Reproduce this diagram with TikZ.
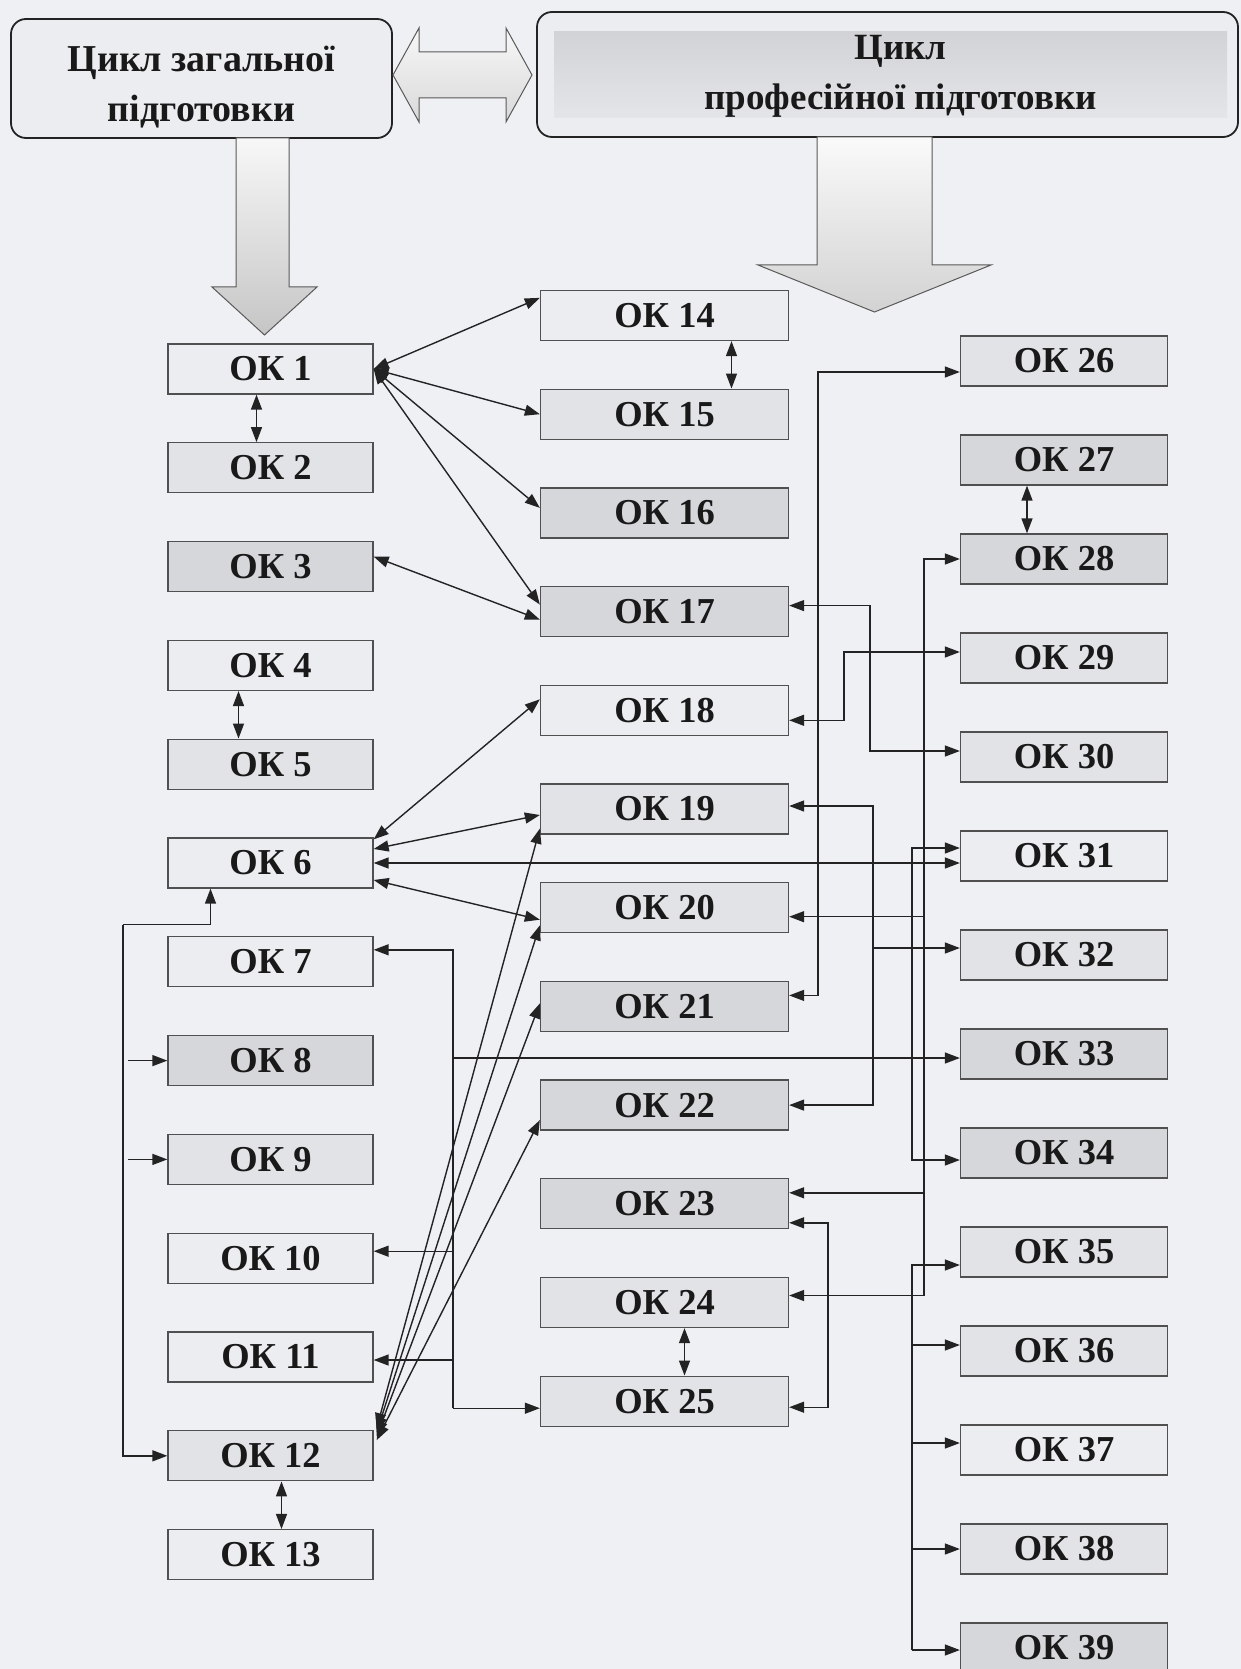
\documentclass[tikz,border=0pt]{standalone}
\usepackage{fontspec}
\setmainfont{Liberation Serif}
\usetikzlibrary{arrows.meta,calc}
\definecolor{bg}{RGB}{238,240,244}
\definecolor{boxA}{RGB}{236,237,240}
\definecolor{boxB}{RGB}{226,227,230}
\definecolor{boxC}{RGB}{214,215,218}
\definecolor{ln}{RGB}{35,35,35}
\definecolor{bd}{RGB}{80,80,80}
\begin{document}
\begin{tikzpicture}[x=1pt,y=-1pt,
  okbox/.style={draw=bd, line width=1.3pt, inner sep=0pt, font=\fontsize{36.5}{40}\selectfont\bfseries, text=black!90},
  c1/.style={okbox, minimum width=205pt, minimum height=50pt},
  c2/.style={okbox, minimum width=248pt, minimum height=50pt},
  c3/.style={okbox, minimum width=207pt, minimum height=50pt},
  topbox/.style={draw=ln, line width=1.8pt, rounded corners=15pt, fill=boxA, inner sep=0pt},
  toptext/.style={font=\fontsize{38}{50}\selectfont\bfseries, align=center, text=black!90, inner sep=0pt},
  con/.style={draw=ln, line width=1.4pt},
  one/.style={con, -{Triangle[length=15pt,width=11pt]}},
  two/.style={con, {Triangle[length=15pt,width=11pt]}-{Triangle[length=15pt,width=11pt]}},
  bigarrow/.style={draw=gray!70!black, line width=1pt},
]
\fill[bg] (0,0) rectangle (1241,1669);
\useasboundingbox (0,0) rectangle (1241,1669);

% ---------- top blocks ----------
\node[topbox, minimum width=381pt, minimum height=119pt] (gen) at (201.5,78.5) {};
\node[toptext] (gentxt) at ($(gen.center)+(0,9)$) {Цикл загальної\\підготовки};
\node[topbox, minimum width=701pt, minimum height=125pt] (prof) at (887.5,74.5) {};
\shade[top color={rgb,255:red,210;green,211;blue,214}, bottom color={rgb,255:red,228;green,229;blue,232}] (554,32) rectangle (1227,118);
\node[toptext, font=\fontsize{37}{50}\selectfont\bfseries] (proftxt) at ($(prof.center)+(13,2)$) {Цикл\\професійної підготовки};

% hollow double arrow between blocks
\shade[top color=gray!6, bottom color=gray!30, bigarrow]
  (393,75) -- (419,28) -- (419,52) -- (506,52) -- (506,28) -- (532,75)
  -- (506,122) -- (506,98) -- (419,98) -- (419,122) -- cycle;
% down arrows
\shade[top color=gray!6, bottom color=gray!45, bigarrow]
  (236,138) -- (289,138) -- (289,287) -- (317,287) -- (264.5,335)
  -- (212,287) -- (236,287) -- cycle;
\shade[top color=gray!4, bottom color=gray!35, bigarrow]
  (817,137) -- (932,137) -- (932,265) -- (991,265) -- (874.5,312)
  -- (758,265) -- (817,265) -- cycle;

% ---------- boxes ----------
\foreach \i/\f in {1/boxA,2/boxB,3/boxC,4/boxA,5/boxB,6/boxA,7/boxA,8/boxC,9/boxB,10/boxA,11/boxA,12/boxB,13/boxA}
  \node[c1, fill=\f] (ok\i) at (270.5,{369+(\i-1)*98.8}) {ОК \i};
\foreach \i/\f in {14/boxA,15/boxB,16/boxC,17/boxC,18/boxA,19/boxB,20/boxB,21/boxC,22/boxC,23/boxC,24/boxB,25/boxB}
  \node[c2, fill=\f] (ok\i) at (664.5,{315.5+(\i-14)*98.7}) {ОК \i};
\foreach \i/\f in {26/boxB,27/boxC,28/boxC,29/boxB,30/boxB,31/boxA,32/boxB,33/boxC,34/boxC,35/boxB,36/boxB,37/boxA,38/boxB,39/boxC}
  \node[c3, fill=\f] (ok\i) at (1064,{361+(\i-26)*99}) {ОК \i};

% ---------- short vertical double arrows ----------
\draw[two] ($(ok1.south)+(-14,0)$) -- ($(ok2.north)+(-14,0)$);
\draw[two] ($(ok4.south)+(-32,0)$) -- ($(ok5.north)+(-32,0)$);
\draw[two] ($(ok12.south)+(11,0)$) -- ($(ok13.north)+(11,0)$);
\draw[two] ($(ok14.south)+(67,0)$) -- ($(ok15.north)+(67,0)$);
\draw[two] ($(ok24.south)+(20,0)$) -- ($(ok25.north)+(20,0)$);
\draw[two] ($(ok27.south)+(-37,0)$) -- ($(ok28.north)+(-37,0)$);

% ---------- fan from OK1 and OK3 ----------
\draw[two] (ok1.east) -- ($(ok14.north west)+(0,8)$);
\draw[two] (ok1.east) -- (ok15.west);
\draw[two] (ok1.east) -- ($(ok16.west)+(0,-5)$);
\draw[two] (ok1.east) -- ($(ok17.west)+(0,-7)$);
\draw[two] ($(ok3.east)+(0,-10)$) -- ($(ok17.west)+(0,8)$);

% ---------- fan at OK6 ----------
\draw[two] ($(ok6.north east)+(0,2)$) -- ($(ok18.west)+(0,-11)$);
\draw[two] ($(ok6.east)+(0,-14)$) -- ($(ok19.west)+(0,6)$);
\draw[two] (ok6.east) -- (ok6.east -| ok31.west);
\draw[two] ($(ok6.east)+(0,17)$) -- ($(ok20.west)+(0,12)$);

% ---------- fan at OK12 ----------
\draw[two] ($(ok12.north east)+(3,-2)$) -- ($(ok19.south west)+(0,-6)$);
\draw[two] ($(ok12.north east)+(3,2)$) -- ($(ok20.south west)+(0,-8)$);
\draw[two] ($(ok12.north east)+(3,6)$) -- ($(ok21.west)+(0,-3)$);
\draw[two] ($(ok12.north east)+(3,10)$) -- ($(ok22.west)+(0,15)$);

% ---------- trunk between columns 1 and 2 ----------
\coordinate (tA) at (453,0);
\coordinate (p7) at ($(ok7.east)+(0,-12)$);
\coordinate (p10) at ($(ok10.east)+(0,-7)$);
\coordinate (p11) at ($(ok11.east)+(0,3)$);
\coordinate (p25) at ($(ok25.west)+(0,7)$);
\coordinate (p33) at ($(ok33.west)+(0,4)$);
\draw[one] (p25 -| tA) -- (p7 -| tA) -- (p7);
\draw[one] (p25 -| tA) -- (p25);
\draw[one] (p10 -| tA) -- (p10);
\draw[one] (p11 -| tA) -- (p11);
\draw[one] (p33 -| tA) -- (p33);

% ---------- left trunk ----------
\coordinate (tL) at (123,0);
\coordinate (k6) at ($(ok6.south)+(-60,36)$);
\coordinate (s6) at ($(ok6.south)+(-60,0)$);
\draw[one] (k6 -| tL) -- (k6) -- (s6);
\draw[one] (k6 -| tL) -- (ok12.west -| tL) -- (ok12.west);
\draw[one] ($(ok8.west -| tL)+(5,0)$) -- (ok8.west);
\draw[one] ($(ok9.west -| tL)+(5,0)$) -- (ok9.west);

% ---------- elbows between columns 2 and 3 ----------
\coordinate (v1) at (818,0);
\coordinate (v2) at (844,0);
\coordinate (v3) at (870,0);
\coordinate (v4) at (873,0);
\coordinate (v5) at (924,0);
\coordinate (v6) at (912,0);
\coordinate (v7) at (828,0);

\coordinate (q21) at ($(ok21.east)+(0,-11)$);
\coordinate (q26) at ($(ok26.west)+(0,11)$);
\draw[two] (q21) -- (q21 -| v1) -- (q26 -| v1) -- (q26);

\coordinate (q18) at ($(ok18.east)+(0,10)$);
\coordinate (q29) at ($(ok29.west)+(0,-6)$);
\draw[two] (q18) -- (q18 -| v2) -- (q29 -| v2) -- (q29);

\coordinate (q17) at ($(ok17.east)+(0,-6)$);
\coordinate (q30) at ($(ok30.west)+(0,-6)$);
\draw[two] (q17) -- (q17 -| v3) -- (q30 -| v3) -- (q30);

\coordinate (q19) at ($(ok19.east)+(0,-3)$);
\coordinate (q22) at (ok22.east);
\coordinate (q32) at ($(ok32.west)+(0,-7)$);
\draw[two] (q19) -- (q19 -| v4) -- (q22 -| v4) -- (q22);
\draw[one] (q32 -| v4) -- (q32);

\coordinate (q28) at (ok28.west);
\coordinate (q20) at ($(ok20.east)+(0,9)$);
\coordinate (q23) at ($(ok23.east)+(0,-11)$);
\coordinate (q24) at ($(ok24.east)+(0,-7)$);
\draw[two] (q28) -- (q28 -| v5) -- (q24 -| v5) -- (q24);
\draw[one] (q20 -| v5) -- (q20);
\draw[one] (q23 -| v5) -- (q23);

\coordinate (q31) at ($(ok31.west)+(0,-8)$);
\coordinate (q34) at ($(ok34.west)+(0,7)$);
\draw[two] (q31) -- (q31 -| v6) -- (q34 -| v6) -- (q34);

\coordinate (q35) at ($(ok35.west)+(0,13)$);
\coordinate (q36) at ($(ok36.west)+(0,-6)$);
\coordinate (q37) at ($(ok37.west)+(0,-7)$);
\coordinate (q38) at (ok38.west);
\coordinate (q39) at ($(ok39.west)+(0,2)$);
\draw[one] (q39 -| v6) -- (q35 -| v6) -- (q35);
\draw[one] (q36 -| v6) -- (q36);
\draw[one] (q37 -| v6) -- (q37);
\draw[one] (q38 -| v6) -- (q38);
\draw[one] (q39 -| v6) -- (q39);

\coordinate (q23b) at ($(ok23.east)+(0,19)$);
\coordinate (q25b) at ($(ok25.east)+(0,6)$);
\draw[two] (q23b) -- (q23b -| v7) -- (q25b -| v7) -- (q25b);
\end{tikzpicture}
\end{document}
